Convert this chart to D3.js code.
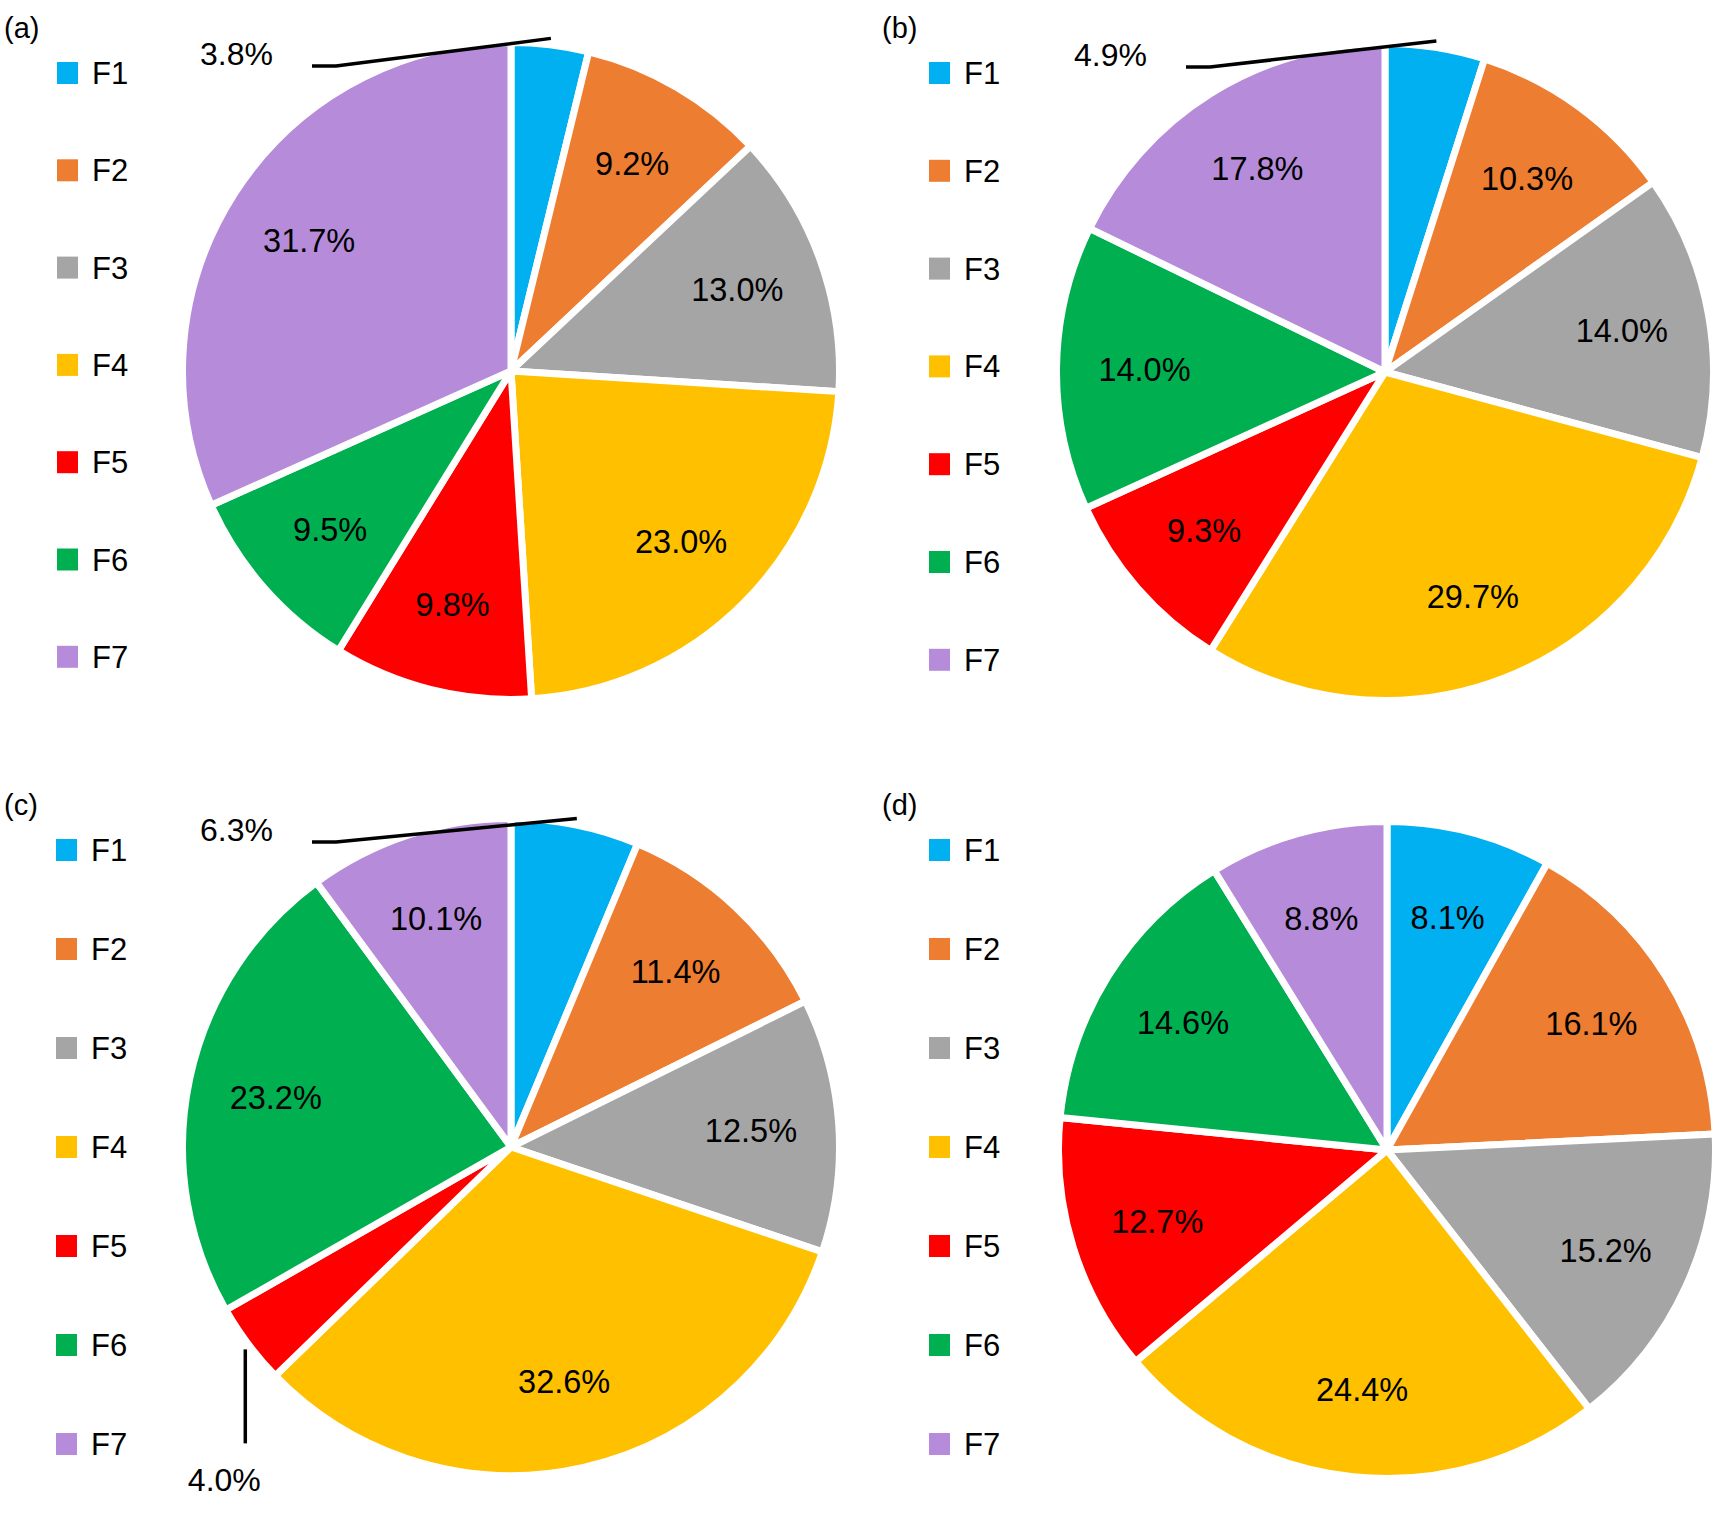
<!DOCTYPE html>
<html>
<head>
<meta charset="utf-8">
<script src="https://cdn.jsdelivr.net/npm/d3@7"></script>
<style>
  body { margin: 0; background: #fff; }
  text { font-family: "Liberation Sans", Arial, Helvetica, sans-serif; fill: #000; }
</style>
</head>
<body>
<script>
// data
const categories = ["F1", "F2", "F3", "F4", "F5", "F6", "F7"];
const panelNames = ["(a)", "(b)", "(c)", "(d)"];
const sharesA = [3.8, 9.2, 13.0, 23.0, 9.8, 9.5, 31.7];
const sharesB = [4.9, 10.3, 14.0, 29.7, 9.3, 14.0, 17.8];
const sharesC = [6.3, 11.4, 12.5, 32.6, 4.0, 23.2, 10.1];
const sharesD = [8.1, 16.1, 15.2, 24.4, 12.7, 14.6, 8.8];
// slices whose label sits outside with a leader line
const outsideA = [0];
const outsideB = [0];
const outsideC = [0, 4];
const outsideD = [];
const colors = ["#00B0F0", "#ED7D31", "#A5A5A5", "#FFC000", "#FF0000", "#00B050", "#B68CDA"];

function main() {
  let width = 1716, height = 1517;
  let R = 325;

  let svg = d3.select("body").append("svg")
    .attr("width", width)
    .attr("height", height);

  let color = d3.scaleOrdinal().domain(categories).range(colors);
  let fmt = d3.format(".1f");

  let panels = [
    {name: panelNames[0], shares: sharesA, outside: outsideA, x0: 0,   y0: 0,   cx: 511,  cy: 371,  lx: 57,  step: 97.3},
    {name: panelNames[1], shares: sharesB, outside: outsideB, x0: 878, y0: 0,   cx: 1385, cy: 372,  lx: 929, step: 97.8},
    {name: panelNames[2], shares: sharesC, outside: outsideC, x0: 0,   y0: 777, cx: 511,  cy: 1147, lx: 56,  step: 99},
    {name: panelNames[3], shares: sharesD, outside: outsideD, x0: 878, y0: 777, cx: 1387, cy: 1150, lx: 929, step: 99}
  ];

  let pie = d3.pie().sort(null).value(d => d.v);
  let arc = d3.arc().innerRadius(0).outerRadius(R + 3.5);
  let labelArc = d3.arc().innerRadius(R * 0.74).outerRadius(R * 0.74);
  let edgeArc = d3.arc().innerRadius(R + 10).outerRadius(R + 10);

  panels.forEach(p => {
    let g = svg.append("g");

    // panel tag
    g.append("text")
      .attr("x", p.x0 + 4)
      .attr("y", p.y0 + 38)
      .attr("font-size", 29)
      .text(p.name);

    // legend
    let ly = d3.scalePoint().domain(categories).range([p.y0 + 73, p.y0 + 73 + 6 * p.step]);
    let leg = g.selectAll(".leg").data(categories).enter().append("g")
      .attr("transform", d => "translate(" + p.lx + "," + ly(d) + ")");
    leg.append("rect")
      .attr("x", 0).attr("y", -11)
      .attr("width", 21).attr("height", 22)
      .attr("fill", d => color(d));
    leg.append("text")
      .attr("x", 35).attr("y", 11)
      .attr("font-size", 31)
      .text(d => d);

    // slices, white outline gives the gaps between them
    let arcs = pie(categories.map((c, i) => ({c: c, v: p.shares[i], i: i})));
    let pg = g.append("g").attr("transform", "translate(" + p.cx + "," + p.cy + ")");
    pg.selectAll("path").data(arcs).enter().append("path")
      .attr("d", arc)
      .attr("fill", d => color(d.data.c))
      .attr("stroke", "#fff")
      .attr("stroke-width", 7)
      .attr("stroke-linejoin", "round");

    // labels inside
    pg.selectAll(".lbl").data(arcs.filter(d => p.outside.indexOf(d.data.i) < 0)).enter().append("text")
      .attr("class", "lbl")
      .attr("transform", d => "translate(" + labelArc.centroid(d) + ")")
      .attr("text-anchor", "middle")
      .attr("dy", "0.36em")
      .attr("font-size", 32.5)
      .text(d => fmt(d.data.v) + "%");

    // labels outside with leader lines
    arcs.filter(d => p.outside.indexOf(d.data.i) >= 0).forEach(d => {
      let [ex, ey] = edgeArc.centroid(d);
      if (d.data.i === 0) {
        let ly0 = -R + 20;
        pg.append("path")
          .attr("d", d3.line()([[-199, ly0], [-175, ly0], [ex, ey]]))
          .attr("fill", "none").attr("stroke", "#000").attr("stroke-width", 3.5);
        pg.append("text")
          .attr("x", -238).attr("y", ly0 - 1)
          .attr("text-anchor", "end")
          .attr("font-size", 32)
          .text(fmt(d.data.v) + "%");
      } else {
        let sx = ex + 2;
        pg.append("line")
          .attr("x1", sx).attr("y1", ey + 1)
          .attr("x2", sx).attr("y2", ey + 95)
          .attr("stroke", "#000").attr("stroke-width", 3.5);
        pg.append("text")
          .attr("x", sx - 21).attr("y", ey + 143)
          .attr("text-anchor", "middle")
          .attr("font-size", 32)
          .text(fmt(d.data.v) + "%");
      }
    });
  });
}

main()
</script>
</body>
</html>
